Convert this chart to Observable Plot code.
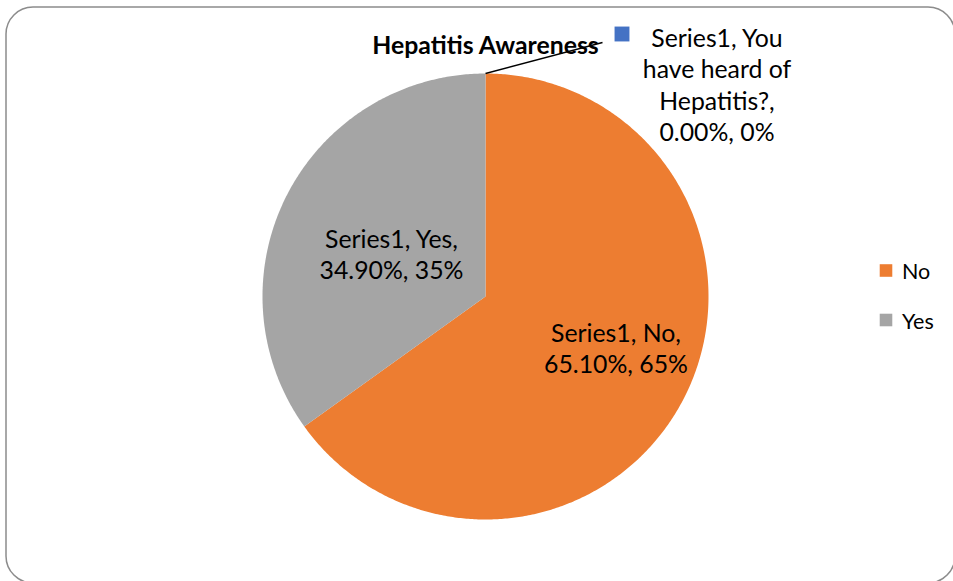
<!DOCTYPE html>
<html>
<head>
<meta charset="utf-8">
<script src="https://cdn.jsdelivr.net/npm/d3@7"></script>
<script src="https://cdn.jsdelivr.net/npm/@observablehq/plot@0.6"></script>
<style>
  html, body { margin: 0; padding: 0; background: #fff; overflow: hidden; }
  #chart { width: 953px; height: 581px; }
</style>
</head>
<body>
<div id="chart"></div>
<script>
// Survey answers (share of respondents, %)
const seriesName = "Series1";
const categories = ["You have heard of Hepatitis?", "No", "Yes"];
const shares = [0, 65.1, 34.9];
const colors = ["#4472C4", "#ED7D31", "#A5A5A5"];
const legendCategories = ["No", "Yes"];
const title = "Hepatitis Awareness";

// Layout (pixels): pie centre and radius, label anchors, legend
const W = 953, H = 581;
const cx = 485, cy = 296, R = 223;
const labelAnchor = {
  "You have heard of Hepatitis?": [716.5, 83.5],
  "No": [615.5, 347],
  "Yes": [391, 253]
};
const labelLines = {
  "You have heard of Hepatitis?": ["You", "have heard of", "Hepatitis?"]
};
const leaderEnd = [602, 42];
const legendPos = [[885.5, 270], [885.5, 319.5]];

// pixel -> pie units
const ux = (px) => (px - cx) / R;
const uy = (py) => (cy - py) / R;

const rows = categories.map((c, i) => ({category: c, share: shares[i]}));
const arcs = d3.pie().sort(null).value(d => d.share)(rows);

// Slice outlines as closed polygons in pie units (y up, angle clockwise from 12 o'clock)
const slicePoints = [];
for (const a of arcs) {
  if (a.endAngle <= a.startAngle) continue;
  const cat = a.data.category;
  const n = Math.max(2, Math.ceil((a.endAngle - a.startAngle) / (Math.PI / 360)));
  slicePoints.push({category: cat, x: 0, y: 0});
  for (let k = 0; k <= n; k++) {
    const t = a.startAngle + (a.endAngle - a.startAngle) * k / n;
    slicePoints.push({category: cat, x: Math.sin(t), y: Math.cos(t)});
  }
}

// Data labels: "Series1, <category>, <share>, <rounded %>"
const labels = arcs.map(a => {
  const c = a.data.category;
  const s = a.data.share;
  const head = labelLines[c]
    ? [`${seriesName}, ${labelLines[c][0]}`, ...labelLines[c].slice(1, -1), `${labelLines[c][labelLines[c].length - 1]},`]
    : [`${seriesName}, ${c},`];
  const text = [...head, `${s.toFixed(2)}%, ${Math.round(s)}%`].join("\n");
  const [px, py] = labelAnchor[c];
  return {category: c, text, x: ux(px), y: uy(py), mid: (a.startAngle + a.endAngle) / 2, share: s};
});

// Zero-share slice gets a leader line and a colour key next to its label
const zeroSlices = labels.filter(d => d.share === 0);
const leaders = zeroSlices.map(d => ({
  x1: Math.sin(d.mid), y1: Math.cos(d.mid), x2: ux(leaderEnd[0]), y2: uy(leaderEnd[1])
}));
const zeroKeys = zeroSlices.map(d => ({category: d.category, x: ux(621.5), y: uy(33.5)}));

const legend = legendCategories.map((c, i) => ({category: c, x: ux(legendPos[i][0]), y: uy(legendPos[i][1])}));

const fontSize = 24.8;

const chart = Plot.plot({
  width: W,
  height: H,
  marginLeft: cx - R,
  marginRight: W - (cx + R),
  marginTop: cy - R,
  marginBottom: H - (cy + R),
  x: {domain: [-1, 1], axis: null},
  y: {domain: [-1, 1], axis: null},
  color: {domain: categories, range: colors},
  style: {fontFamily: "Lato, 'Open Sans', sans-serif", background: "#fff", color: "#000"},
  marks: [
    // chart area border
    Plot.rect([0], {
      x1: ux(6), x2: ux(955), y1: uy(7), y2: uy(583),
      rx: 27, fill: "none", stroke: "#8c8c8c", strokeWidth: 1.5
    }),
    // pie slices
    Plot.line(slicePoints, {x: "x", y: "y", z: "category", fill: "category", curve: "linear"}),
    // data labels
    Plot.text(labels, {
      x: "x", y: "y", text: "text", fontSize, lineHeight: 31.5 / fontSize,
      fill: "#000", textAnchor: "middle"
    }),
    // leader line for the empty slice
    Plot.link(leaders, {x1: "x1", y1: "y1", x2: "x2", y2: "y2", stroke: "#000", strokeWidth: 1.3}),
    Plot.dot(zeroKeys, {x: "x", y: "y", symbol: "square", r: 8.4, fill: "category"}),
    // title
    Plot.text([title], {
      x: ux(485), y: uy(45.5), text: d => d, fontSize, fontWeight: "bold", fill: "#000"
    }),
    // legend
    Plot.dot(legend, {x: "x", y: "y", symbol: "square", r: 7.1, fill: "category"}),
    Plot.text(legend, {
      x: "x", y: "y", text: "category", dx: 16, dy: 2, textAnchor: "start",
      fontSize: 21.5, fill: "#000"
    })
  ]
});

document.getElementById("chart").appendChild(chart);
</script>
</body>
</html>
